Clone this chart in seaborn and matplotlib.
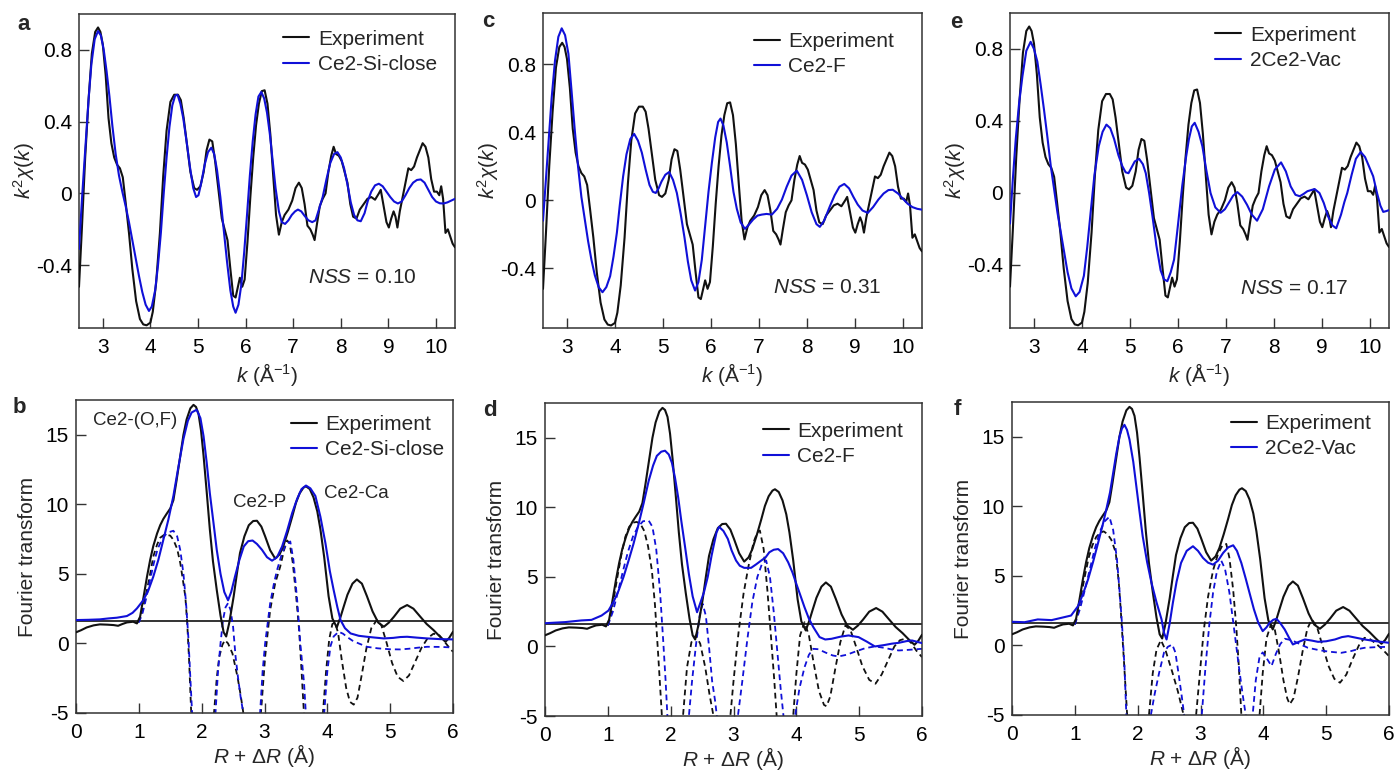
import numpy as np
import matplotlib
matplotlib.use("Agg")
import matplotlib.pyplot as plt
from matplotlib.lines import Line2D
import seaborn as sns

# ---------------- data ----------------
# k-space experiment (shared by a, c, e)
EXP_K = [(2.50,-0.52),(2.56,-0.20),(2.63,0.20),(2.70,0.52),(2.77,0.78),(2.84,0.90),(2.90,0.925),(2.95,0.90),
         (3.00,0.83),(3.06,0.66),(3.12,0.42),(3.18,0.28),(3.24,0.20),(3.30,0.16),(3.36,0.14),(3.42,0.09),
         (3.48,-0.05),(3.55,-0.22),(3.62,-0.42),(3.70,-0.60),(3.78,-0.70),(3.85,-0.73),(3.92,-0.735),(4.00,-0.72),
         (4.05,-0.66),(4.12,-0.50),(4.20,-0.22),(4.27,0.10),(4.34,0.35),(4.42,0.51),(4.50,0.55),(4.58,0.55),
         (4.64,0.52),(4.70,0.42),(4.77,0.27),(4.84,0.12),(4.92,0.03),(4.98,0.02),(5.05,0.04),(5.12,0.12),
         (5.18,0.24),(5.24,0.30),(5.30,0.29),(5.36,0.18),(5.43,0.02),(5.50,-0.14),(5.56,-0.20),(5.62,-0.26),
         (5.68,-0.42),(5.74,-0.57),(5.79,-0.58),(5.84,-0.52),(5.88,-0.47),(5.93,-0.52),(5.98,-0.48),(6.04,-0.27),
         (6.10,-0.02),(6.16,0.20),(6.22,0.38),(6.28,0.50),(6.34,0.57),(6.40,0.575),(6.46,0.50),(6.52,0.33),
         (6.58,0.10),(6.64,-0.12),(6.70,-0.23),(6.76,-0.16),(6.82,-0.12),(6.90,-0.09),(6.98,-0.04),(7.05,0.03),
         (7.12,0.06),(7.18,0.03),(7.24,-0.06),(7.30,-0.18),(7.36,-0.20),(7.41,-0.23),(7.45,-0.26),(7.50,-0.17),
         (7.56,-0.07),(7.62,-0.03),(7.68,0.00),(7.74,0.12),(7.80,0.21),(7.85,0.26),(7.90,0.22),(7.96,0.21),
         (8.02,0.18),(8.08,0.12),(8.14,0.06),(8.20,-0.06),(8.26,-0.13),(8.33,-0.14),(8.40,-0.09),(8.48,-0.06),
         (8.56,-0.03),(8.64,-0.02),(8.72,-0.035),(8.80,0.00),(8.84,0.02),(8.90,-0.07),(8.96,-0.16),(9.01,-0.19),
         (9.06,-0.14),(9.11,-0.10),(9.15,-0.13),(9.19,-0.19),(9.24,-0.10),(9.30,-0.02),(9.36,0.06),(9.42,0.14),
         (9.48,0.13),(9.54,0.15),(9.60,0.20),(9.66,0.24),(9.72,0.28),(9.78,0.26),(9.84,0.20),(9.90,0.08),
         (9.96,0.01),(10.02,0.01),(10.07,-0.01),(10.11,0.04),(10.15,-0.03),(10.20,-0.22),(10.25,-0.20),
         (10.30,-0.24),(10.35,-0.28),(10.40,-0.30)]

FIT_A_K = [(2.50,-0.31),(2.57,0.00),(2.64,0.28),(2.70,0.52),(2.76,0.72),(2.83,0.86),(2.90,0.905),(2.96,0.88),
           (3.02,0.80),(3.08,0.68),(3.14,0.54),(3.20,0.38),(3.27,0.22),(3.34,0.10),(3.41,0.01),(3.48,-0.07),
           (3.55,-0.16),(3.62,-0.26),(3.69,-0.36),(3.76,-0.46),(3.83,-0.55),(3.90,-0.62),(3.97,-0.655),(4.03,-0.63),
           (4.10,-0.54),(4.16,-0.40),(4.22,-0.22),(4.28,0.00),(4.34,0.20),(4.40,0.37),(4.46,0.49),(4.52,0.545),
           (4.57,0.55),(4.63,0.50),(4.69,0.42),(4.76,0.29),(4.83,0.15),(4.90,0.03),(4.96,-0.02),(5.01,-0.01),
           (5.07,0.06),(5.14,0.16),(5.21,0.23),(5.28,0.255),(5.34,0.22),(5.40,0.13),(5.47,-0.02),(5.54,-0.20),
           (5.61,-0.38),(5.68,-0.54),(5.74,-0.63),(5.79,-0.665),(5.85,-0.62),(5.91,-0.51),(5.97,-0.33),(6.03,-0.12),
           (6.09,0.10),(6.15,0.29),(6.21,0.44),(6.27,0.54),(6.33,0.565),(6.39,0.53),(6.45,0.45),(6.51,0.33),
           (6.57,0.18),(6.63,0.03),(6.70,-0.10),(6.76,-0.16),(6.83,-0.17),(6.90,-0.15),(6.97,-0.12),(7.04,-0.10),
           (7.10,-0.09),(7.17,-0.10),(7.24,-0.125),(7.32,-0.15),(7.40,-0.16),(7.47,-0.15),(7.54,-0.09),(7.62,-0.02),
           (7.70,0.08),(7.78,0.17),(7.86,0.22),(7.93,0.23),(8.00,0.20),(8.07,0.14),(8.14,0.05),(8.21,-0.05),
           (8.28,-0.12),(8.35,-0.15),(8.42,-0.155),(8.50,-0.11),(8.57,-0.04),(8.64,0.01),(8.72,0.045),(8.80,0.054),
           (8.88,0.04),(8.96,0.01),(9.04,-0.02),(9.12,-0.045),(9.20,-0.056),(9.28,-0.045),(9.36,-0.01),(9.44,0.03),
           (9.52,0.06),(9.60,0.075),(9.68,0.078),(9.76,0.06),(9.84,0.02),(9.92,-0.02),(10.00,-0.045),(10.08,-0.055),
           (10.16,-0.056),(10.24,-0.05),(10.32,-0.04),(10.40,-0.03)]

FIT_C_K = [(2.50,-0.12),(2.56,0.12),(2.62,0.36),(2.68,0.60),(2.75,0.82),(2.82,0.96),(2.89,1.01),(2.96,0.97),
           (3.03,0.86),(3.09,0.66),(3.16,0.42),(3.23,0.20),(3.30,0.02),(3.37,-0.11),(3.44,-0.24),(3.51,-0.35),
           (3.58,-0.44),(3.66,-0.51),(3.74,-0.54),(3.82,-0.51),(3.90,-0.445),(3.97,-0.33),(4.04,-0.19),(4.10,-0.03),
           (4.17,0.14),(4.24,0.27),(4.32,0.36),(4.40,0.39),(4.48,0.35),(4.56,0.28),(4.64,0.18),(4.72,0.09),
           (4.79,0.05),(4.85,0.043),(4.91,0.07),(4.97,0.11),(5.05,0.15),(5.13,0.166),(5.21,0.12),(5.29,0.043),
           (5.37,-0.08),(5.45,-0.22),(5.52,-0.36),(5.59,-0.47),(5.67,-0.53),(5.74,-0.48),(5.81,-0.35),(5.88,-0.15),
           (5.95,0.05),(6.02,0.22),(6.09,0.37),(6.15,0.46),(6.20,0.48),(6.26,0.44),(6.33,0.34),(6.40,0.20),
           (6.47,0.05),(6.54,-0.05),(6.62,-0.13),(6.71,-0.168),(6.80,-0.14),(6.88,-0.113),(6.97,-0.09),(7.06,-0.084),
           (7.16,-0.08),(7.27,-0.084),(7.38,-0.05),(7.48,0.004),(7.58,0.08),(7.68,0.145),(7.79,0.174),(7.90,0.12),
           (8.00,0.03),(8.10,-0.07),(8.20,-0.14),(8.27,-0.156),(8.36,-0.12),(8.48,-0.035),(8.58,0.03),(8.68,0.08),
           (8.78,0.096),(8.88,0.07),(8.97,0.02),(9.06,-0.025),(9.16,-0.06),(9.27,-0.074),(9.38,-0.04),(9.49,0.004),
           (9.60,0.04),(9.70,0.06),(9.79,0.062),(9.90,0.04),(10.00,0.01),(10.10,-0.02),(10.20,-0.04),(10.30,-0.05),
           (10.40,-0.055)]

FIT_E_K = [(2.50,-0.17),(2.56,0.08),(2.62,0.30),(2.69,0.50),(2.76,0.65),(2.84,0.79),(2.93,0.84),(3.00,0.80),
           (3.07,0.73),(3.14,0.60),(3.21,0.46),(3.28,0.31),(3.35,0.15),(3.42,0.02),(3.49,-0.11),(3.56,-0.22),
           (3.63,-0.33),(3.70,-0.44),(3.78,-0.53),(3.87,-0.574),(3.95,-0.55),(4.04,-0.46),(4.11,-0.30),(4.18,-0.11),
           (4.26,0.10),(4.35,0.26),(4.43,0.34),(4.51,0.38),(4.59,0.36),(4.67,0.30),(4.76,0.21),(4.84,0.15),
           (4.91,0.115),(4.97,0.11),(5.03,0.14),(5.10,0.175),(5.19,0.19),(5.27,0.16),(5.33,0.11),(5.40,0.00),
           (5.47,-0.13),(5.55,-0.29),(5.64,-0.43),(5.71,-0.48),(5.78,-0.49),(5.85,-0.44),(5.92,-0.37),(6.00,-0.18),
           (6.09,0.04),(6.17,0.20),(6.23,0.30),(6.29,0.37),(6.35,0.39),(6.43,0.34),(6.51,0.26),(6.59,0.13),
           (6.68,0.00),(6.78,-0.08),(6.89,-0.11),(6.98,-0.09),(7.06,-0.055),(7.15,-0.015),(7.24,0.005),(7.34,-0.02),
           (7.44,-0.065),(7.54,-0.12),(7.65,-0.154),(7.77,-0.09),(7.90,0.037),(8.02,0.13),(8.15,0.17),(8.25,0.12),
           (8.35,0.037),(8.45,-0.01),(8.54,-0.018),(8.62,-0.005),(8.70,0.01),(8.85,0.022),(8.95,0.00),(9.04,-0.055),
           (9.13,-0.13),(9.22,-0.18),(9.30,-0.196),(9.40,-0.12),(9.47,-0.05),(9.53,0.00),(9.62,0.10),(9.71,0.19),
           (9.81,0.228),(9.90,0.20),(9.98,0.15),(10.07,0.093),(10.15,0.00),(10.22,-0.07),(10.28,-0.105),
           (10.35,-0.10),(10.40,-0.095)]

# R-space experiment magnitude (shared by b, d, f)
EXP_R = [(0.00,0.80),(0.08,0.95),(0.17,1.15),(0.28,1.30),(0.38,1.37),(0.50,1.35),(0.60,1.32),(0.67,1.27),
         (0.74,1.40),(0.81,1.51),(0.91,1.56),(0.97,1.44),(1.02,1.92),(1.07,3.2),(1.13,4.8),(1.18,6.0),
         (1.23,7.0),(1.29,7.9),(1.34,8.5),(1.39,8.95),(1.44,9.3),(1.50,9.7),(1.55,10.3),(1.60,11.7),
         (1.66,13.5),(1.71,15.0),(1.76,16.1),(1.82,16.9),(1.87,17.15),(1.91,17.0),(1.95,16.5),(1.99,15.3),
         (2.03,13.5),(2.08,10.9),(2.13,8.2),(2.18,5.9),(2.24,3.85),(2.30,2.0),(2.35,0.8),(2.39,0.5),
         (2.44,1.5),(2.51,3.4),(2.56,5.0),(2.61,6.5),(2.68,7.7),(2.75,8.5),(2.82,8.8),(2.88,8.82),
         (2.95,8.4),(3.01,7.7),(3.09,6.7),(3.17,6.1),(3.24,6.4),(3.30,7.0),(3.37,8.0),(3.44,9.1),
         (3.50,10.1),(3.56,10.8),(3.62,11.2),(3.66,11.3),(3.72,11.1),(3.78,10.5),(3.84,9.5),(3.89,8.2),
         (3.95,6.2),(4.02,3.4),(4.08,1.8),(4.15,1.15),(4.21,1.9),(4.26,2.64),(4.32,3.5),(4.40,4.3),
         (4.47,4.6),(4.55,4.3),(4.63,3.4),(4.72,2.3),(4.81,1.5),(4.90,1.2),(4.98,1.5),(5.06,1.92),
         (5.16,2.5),(5.27,2.76),(5.37,2.5),(5.48,1.92),(5.58,1.4),(5.69,0.96),(5.79,0.5),(5.88,0.12),
         (5.94,0.4),(6.00,0.84)]

FIT_B_R = [(0.00,1.68),(0.20,1.70),(0.38,1.73),(0.52,1.80),(0.65,1.85),(0.81,1.97),(0.90,2.20),(0.97,2.52),
           (1.07,3.1),(1.15,3.8),(1.23,4.8),(1.31,6.0),(1.39,7.45),(1.47,8.9),(1.55,10.6),(1.63,12.7),
           (1.71,14.7),(1.78,16.0),(1.84,16.6),(1.92,16.8),(1.98,16.2),(2.03,14.9),(2.08,13.0),(2.13,10.8),
           (2.19,8.6),(2.24,6.73),(2.30,5.0),(2.36,3.7),(2.42,3.1),(2.47,3.7),(2.53,4.8),(2.60,6.0),
           (2.67,6.97),(2.74,7.35),(2.81,7.4),(2.88,7.15),(2.96,6.73),(3.04,6.2),(3.12,5.95),(3.20,6.2),
           (3.28,6.97),(3.36,8.1),(3.44,9.37),(3.52,10.4),(3.59,11.1),(3.66,11.35),(3.73,11.15),(3.81,10.6),
           (3.89,9.1),(3.97,7.2),(4.04,5.2),(4.10,3.85),(4.16,2.6),(4.21,1.68),(4.28,1.1),(4.37,0.72),
           (4.50,0.55),(4.63,0.48),(4.76,0.42),(4.90,0.36),(5.05,0.40),(5.16,0.46),(5.27,0.48),(5.42,0.42),
           (5.59,0.36),(5.80,0.31),(6.00,0.29)]

IM_EXP_B = [(0.98,1.5),(1.03,1.9),(1.08,2.8),(1.13,3.85),(1.18,5.0),(1.23,6.25),(1.29,7.1),(1.34,7.6),
            (1.40,7.8),(1.45,7.8),(1.50,7.75),(1.55,7.45),(1.61,6.8),(1.66,5.77),(1.70,4.6),(1.74,3.36),
            (1.77,1.46),(1.80,-1.2),(1.83,-4.6),(1.85,-6.5),(2.02,-12),(2.17,-6.5),(2.20,-4.8),(2.24,-2.5),
            (2.28,-0.96),(2.33,-0.1),(2.37,0.24),(2.42,0.0),(2.49,-0.72),(2.57,-2.4),(2.62,-3.7),(2.67,-5.2),
            (2.70,-6.5),(2.80,-10),(2.91,-6.5),(2.95,-4.6),(3.01,-0.96),(3.09,2.4),(3.17,4.33),(3.25,5.52),
            (3.31,6.7),(3.36,7.4),(3.40,7.2),(3.45,5.8),(3.50,3.6),(3.55,1.0),(3.59,-2.0),(3.63,-5.2),
            (3.66,-6.5),(3.78,-12),(3.90,-6.5),(3.93,-5.0),(3.98,-2.0),(4.03,0.3),(4.08,1.4),(4.12,1.5),
            (4.17,0.8),(4.23,-1.2),(4.30,-3.2),(4.36,-4.2),(4.42,-4.4),(4.48,-3.9),(4.55,-2.2),(4.62,-0.4),
            (4.70,1.1),(4.79,1.7),(4.86,1.3),(4.94,0.1),(5.03,-1.4),(5.12,-2.4),(5.21,-2.7),(5.30,-2.3),
            (5.40,-1.3),(5.50,-0.3),(5.60,0.4),(5.69,0.7),(5.78,0.6),(5.87,0.1),(5.94,-0.3),(6.00,-0.6)]

IM_FIT_B = [(1.00,1.5),(1.06,2.2),(1.12,3.3),(1.18,4.6),(1.24,5.8),(1.30,6.8),(1.36,7.4),(1.42,7.8),
            (1.48,8.0),(1.55,8.1),(1.61,7.7),(1.66,6.7),(1.71,5.0),(1.75,3.0),(1.79,0.3),(1.82,-2.5),
            (1.85,-5.2),(1.87,-6.5),(2.03,-12),(2.19,-6.5),(2.22,-5.0),(2.26,-2.0),(2.30,0.0),(2.34,1.7),
            (2.38,2.6),(2.42,2.9),(2.46,2.4),(2.50,1.2),(2.54,-0.96),(2.58,-2.5),(2.62,-3.85),(2.67,-5.2),
            (2.70,-6.5),(2.81,-10),(2.90,-6.5),(2.93,-5.0),(2.97,-2.0),(3.01,0.0),(3.09,2.88),(3.15,4.3),
            (3.20,5.28),(3.28,6.5),(3.34,7.1),(3.41,7.33),(3.46,6.0),(3.52,3.12),(3.57,0.0),(3.63,-2.88),
            (3.66,-5.2),(3.68,-6.5),(3.82,-12),(3.92,-6.5),(3.95,-5.0),(4.00,-2.0),(4.05,-0.2),(4.10,0.5),
            (4.18,0.84),(4.25,0.7),(4.31,0.48),(4.40,0.2),(4.50,0.0),(4.63,-0.24),(4.80,-0.35),(5.00,-0.42),
            (5.16,-0.43),(5.30,-0.38),(5.45,-0.3),(5.59,-0.24),(5.80,-0.25),(6.00,-0.29)]

FIT_D_R = [(0.00,1.67),(0.32,1.75),(0.58,1.87),(0.74,1.91),(0.90,2.22),(1.01,2.58),(1.09,3.2),(1.17,4.0),
           (1.25,5.0),(1.33,6.17),(1.41,7.4),(1.49,8.8),(1.57,10.3),(1.65,11.9),(1.72,13.0),(1.78,13.7),
           (1.85,14.0),(1.91,14.07),(1.97,13.8),(2.02,13.2),(2.07,12.1),(2.12,10.7),(2.17,9.0),(2.23,7.13),
           (2.29,5.2),(2.35,3.6),(2.42,2.46),(2.47,3.1),(2.53,3.9),(2.59,5.0),(2.65,6.5),(2.69,7.37),
           (2.73,8.2),(2.77,8.6),(2.84,8.3),(2.91,7.73),(2.97,6.9),(3.04,6.18),(3.10,5.8),(3.17,5.65),
           (3.28,5.65),(3.36,5.9),(3.44,6.17),(3.51,6.4),(3.57,6.77),(3.64,6.95),(3.71,7.0),(3.79,6.7),
           (3.87,6.05),(3.94,5.3),(4.00,4.5),(4.07,3.6),(4.13,2.82),(4.20,2.0),(4.27,1.39),(4.37,0.67),
           (4.46,0.5),(4.56,0.55),(4.70,0.7),(4.83,0.79),(4.99,0.67),(5.12,0.35),(5.25,0.0),(5.40,0.1),
           (5.52,0.2),(5.63,0.26),(5.75,0.38),(5.84,0.43),(6.00,0.24)]

IM_EXP_D = [(1.00,1.5),(1.05,2.3),(1.10,3.6),(1.16,5.2),(1.22,6.7),(1.28,7.9),(1.34,8.6),(1.40,8.9),
            (1.46,8.95),(1.52,8.8),(1.58,8.3),(1.64,7.2),(1.70,5.5),(1.75,3.0),(1.80,-0.5),(1.85,-4.2),
            (1.88,-6.5),(2.04,-12),(2.17,-6.5),(2.20,-4.8),(2.26,-1.5),(2.33,0.3),(2.40,0.79),(2.47,0.2),
            (2.55,-1.5),(2.62,-3.5),(2.69,-5.2),(2.72,-6.5),(2.83,-10),(2.92,-6.5),(2.95,-5.0),(3.00,-2.5),
            (3.08,1.0),(3.16,3.8),(3.24,5.8),(3.32,7.5),(3.38,8.2),(3.42,8.33),(3.48,7.0),(3.54,4.0),
            (3.60,0.5),(3.65,-2.5),(3.69,-5.2),(3.72,-6.5),(3.84,-12),(3.92,-6.5),(3.95,-5.0),(4.00,-2.0),
            (4.06,0.8),(4.13,1.74),(4.20,0.8),(4.28,-1.3),(4.36,-3.2),(4.44,-4.2),(4.48,-4.3),(4.54,-3.6),
            (4.62,-1.6),(4.70,0.3),(4.78,1.5),(4.86,1.2),(4.95,0.0),(5.05,-1.4),(5.16,-2.4),(5.26,-2.68),
            (5.36,-2.0),(5.46,-1.0),(5.56,0.0),(5.65,0.45),(5.73,0.55),(5.82,0.3),(5.91,-0.3),(6.00,-0.77)]

IM_FIT_D = [(1.00,1.5),(1.08,2.5),(1.16,3.9),(1.24,5.4),(1.32,6.8),(1.40,7.9),(1.48,8.6),(1.56,9.0),
            (1.65,9.05),(1.71,8.6),(1.77,7.0),(1.83,4.0),(1.88,0.5),(1.92,-2.5),(1.95,-5.2),(1.98,-6.5),
            (2.12,-12),(2.26,-6.5),(2.29,-5.0),(2.34,-2.5),(2.40,0.0),(2.46,2.2),(2.51,3.06),(2.56,2.2),
            (2.61,0.0),(2.66,-2.5),(2.71,-4.0),(2.74,-5.2),(2.77,-6.5),(2.92,-12),(3.04,-6.5),(3.07,-5.0),
            (3.14,-2.5),(3.22,0.5),(3.30,3.2),(3.38,5.0),(3.45,5.9),(3.52,6.17),(3.58,5.0),(3.64,2.5),
            (3.70,-0.5),(3.75,-3.0),(3.80,-5.2),(3.83,-6.5),(3.90,-10),(3.95,-6.5),(3.98,-5.0),(4.05,-3.0),
            (4.13,-1.5),(4.20,-0.6),(4.27,-0.17),(4.35,-0.2),(4.47,-0.45),(4.58,-0.65),(4.67,-0.72),(4.80,-0.6),
            (4.95,-0.35),(5.10,-0.12),(5.25,0.0),(5.40,-0.1),(5.52,-0.22),(5.63,-0.29),(5.80,-0.24),(6.00,-0.17)]

FIT_F_R = [(0.00,1.70),(0.20,1.67),(0.41,1.87),(0.63,1.82),(0.79,1.99),(0.94,2.15),(1.05,2.82),(1.13,3.7),
           (1.21,4.74),(1.29,6.0),(1.37,7.37),(1.44,8.6),(1.50,9.76),(1.56,11.0),(1.61,12.4),(1.66,13.8),
           (1.71,15.0),(1.75,15.6),(1.79,15.86),(1.83,15.5),(1.87,14.8),(1.93,13.2),(1.98,11.4),(2.03,9.6),
           (2.08,7.85),(2.15,6.0),(2.22,4.5),(2.30,3.1),(2.38,1.87),(2.42,0.9),(2.46,0.43),(2.51,1.6),
           (2.56,3.06),(2.62,4.6),(2.69,5.93),(2.78,6.8),(2.88,7.13),(2.96,6.8),(3.04,6.29),(3.12,5.95),
           (3.20,5.81),(3.28,6.1),(3.36,6.65),(3.44,7.05),(3.52,7.2),(3.58,6.8),(3.65,5.93),(3.72,4.8),
           (3.78,3.78),(3.85,2.6),(3.92,1.63),(3.99,1.03),(4.05,1.3),(4.10,1.63),(4.16,1.85),(4.21,1.91),
           (4.27,1.6),(4.34,1.15),(4.41,0.55),(4.47,0.07),(4.56,0.25),(4.66,0.43),(4.77,0.35),(4.87,0.26),
           (5.00,0.3),(5.14,0.43),(5.25,0.6),(5.35,0.67),(5.48,0.55),(5.61,0.43),(5.80,0.3),(6.00,0.19)]

IM_EXP_F = [(1.00,1.5),(1.05,2.3),(1.10,3.6),(1.16,5.0),(1.22,6.3),(1.28,7.2),(1.34,7.8),(1.40,8.1),
            (1.46,8.2),(1.52,8.0),(1.58,7.6),(1.65,6.7),(1.70,4.5),(1.73,2.6),(1.78,-1.0),(1.83,-4.8),
            (1.86,-6.5),(2.02,-12),(2.15,-6.5),(2.18,-5.0),(2.24,-2.0),(2.30,-0.3),(2.37,0.38),(2.44,-0.3),
            (2.55,-1.9),(2.64,-3.3),(2.72,-4.8),(2.75,-6.5),(2.85,-10),(2.90,-6.5),(2.93,-5.0),(2.98,-2.5),
            (3.05,1.0),(3.12,3.5),(3.20,5.4),(3.28,6.6),(3.35,7.2),(3.41,7.3),(3.46,6.3),(3.52,4.0),
            (3.57,1.3),(3.61,-1.5),(3.65,-5.0),(3.68,-6.5),(3.80,-12),(3.91,-6.5),(3.94,-5.0),(3.99,-2.0),
            (4.05,0.5),(4.12,1.5),(4.18,1.2),(4.25,-0.5),(4.32,-2.5),(4.38,-3.8),(4.42,-4.23),(4.48,-3.8),
            (4.55,-2.3),(4.63,-0.3),(4.70,1.2),(4.77,1.87),(4.85,1.4),(4.94,0.0),(5.04,-1.5),(5.13,-2.4),
            (5.22,-2.68),(5.32,-2.1),(5.42,-1.0),(5.52,0.0),(5.61,0.55),(5.70,0.45),(5.80,0.1),(5.90,-0.3),
            (6.00,-0.77)]

IM_FIT_F = [(1.00,1.5),(1.08,2.6),(1.16,4.0),(1.24,5.5),(1.32,7.0),(1.40,8.2),(1.47,8.9),(1.55,9.25),
            (1.61,8.3),(1.67,6.2),(1.71,4.0),(1.75,1.6),(1.79,-1.5),(1.82,-5.0),(1.85,-6.5),(2.03,-12),
            (2.18,-6.5),(2.21,-5.0),(2.27,-3.5),(2.34,-2.0),(2.42,-0.5),(2.48,-0.1),(2.55,0.07),(2.60,-0.5),
            (2.65,-2.0),(2.70,-3.6),(2.74,-5.0),(2.77,-6.5),(2.91,-12),(3.00,-6.5),(3.02,-5.0),(3.08,-1.5),
            (3.14,1.5),(3.20,3.8),(3.26,5.3),(3.33,6.1),(3.39,5.5),(3.46,3.8),(3.54,1.0),(3.61,-1.5),
            (3.67,-3.5),(3.72,-5.0),(3.75,-6.5),(3.79,-8),(3.83,-5.0),(3.88,-2.5),(3.94,-0.8),(3.99,-0.5),
            (4.05,-0.9),(4.13,-1.48),(4.20,-0.6),(4.27,0.1),(4.34,0.48),(4.45,0.38),(4.58,0.1),(4.71,-0.17),
            (4.90,-0.35),(5.05,-0.45),(5.24,-0.53),(5.40,-0.4),(5.52,-0.25),(5.61,-0.17),(5.80,-0.12),
            (6.00,-0.1)]

MODEL_NAMES = ["Ce2-Si-close", "Ce2-F", "2Ce2-Vac"]
NSS_VALUES = ["0.10", "0.31", "0.17"]
PANEL_LETTERS = ["a", "b", "c", "d", "e", "f"]
K_TICKS = [3, 4, 5, 6, 7, 8, 9, 10]
K_YTICKS = [-0.4, 0, 0.4, 0.8]
K_YTICKLABELS = ["-0.4", "0", "0.4", "0.8"]
R_TICKS = [0, 1, 2, 3, 4, 5, 6]
R_YTICKS = [-5, 0, 5, 10, 15]
BASELINE = 1.6
PEAK_LABELS = ["Ce2-(O,F)", "Ce2-P", "Ce2-Ca"]
PEAK_LABEL_X = [0.94, 2.93, 4.47]
PEAK_LABEL_Y = [16.0, 10.1, 10.8]

# ---------------- style ----------------
sns.set_style("ticks")
plt.rcParams["font.family"] = ["Liberation Sans", "DejaVu Sans"]
plt.rcParams["mathtext.fontset"] = "custom"
plt.rcParams["mathtext.rm"] = "Liberation Sans"
plt.rcParams["mathtext.it"] = "Liberation Sans:italic"
plt.rcParams["mathtext.bf"] = "Liberation Sans:bold"
plt.rcParams["axes.unicode_minus"] = False

BLACK = "#111111"
BLUE = "#1010d8"
SPINE = "#333333"
FS = 15

W, H = 1395, 772
fig = plt.figure(figsize=(W / 100, H / 100), dpi=100)


def add_ax(l, t, r, b):
    return fig.add_axes([l / W, (H - b) / H, (r - l) / W, (b - t) / H])


def arr(pairs):
    a = np.array(pairs, dtype=float)
    return a[:, 0], a[:, 1]


def style_ax(ax):
    for s in ax.spines.values():
        s.set_visible(True)
        s.set_color(SPINE)
        s.set_linewidth(1.1)
    ax.tick_params(direction="in", length=7, width=1.0, colors=SPINE, labelcolor="black",
                   labelsize=FS, top=False, right=False)
    ax.tick_params(axis="x", pad=7)
    ax.tick_params(axis="y", pad=5)


def line(ax, pairs, color, ls="-", lw=1.5, z=3):
    x, y = arr(pairs)
    sns.lineplot(x=x, y=y, ax=ax, color=color, linewidth=lw, linestyle=ls,
                 sort=False, estimator=None, zorder=z)


top_rects = [(79, 14, 455, 328), (543, 13, 922, 328), (1010, 13, 1389, 328)]
bot_rects = [(76, 400, 453, 713), (545, 403, 922, 716), (1012, 402, 1389, 715)]
top_ylims = [(-0.75, 1.0), (-0.75, 1.1), (-0.75, 1.0)]
top_fits = [FIT_A_K, FIT_C_K, FIT_E_K]
bot_fits = [FIT_B_R, FIT_D_R, FIT_F_R]
bot_im_exp = [IM_EXP_B, IM_EXP_D, IM_EXP_F]
bot_im_fit = [IM_FIT_B, IM_FIT_D, IM_FIT_F]
top_leg = [(0.952, 0.950), (0.927, 0.940), (0.912, 0.960)]
bot_leg = [(0.977, 0.952), (0.950, 0.940), (0.953, 0.962)]
nss_pos = [(0.753, 0.162), (0.749, 0.130), (0.749, 0.124)]
letter_pos = [(17, 30), (13, 413), (482, 27), (483, 416), (950, 28), (954, 415)]

leg_kw = dict(loc="upper right", frameon=False, fontsize=FS, handlelength=1.25,
              handletextpad=0.4, labelspacing=0.30, borderpad=0, borderaxespad=0)

for i in range(3):
    # ---- k-space ----
    ax = add_ax(*top_rects[i])
    line(ax, EXP_K, BLACK, z=3)
    line(ax, top_fits[i], BLUE, z=4)
    ax.set_xlim(2.5, 10.4)
    ax.set_ylim(*top_ylims[i])
    ax.set_xticks(K_TICKS)
    ax.set_yticks(K_YTICKS)
    ax.set_yticklabels(K_YTICKLABELS)
    style_ax(ax)
    ax.set_xlabel(r"$k$ (Å$^{-1}$)", fontsize=FS, labelpad=3)
    ax.set_ylabel(r"$k^{2}\chi(k)$", fontsize=FS, labelpad=-1)
    handles = [Line2D([], [], color=BLACK, lw=1.5), Line2D([], [], color=BLUE, lw=1.5)]
    ax.legend(handles, ["Experiment", MODEL_NAMES[i]], bbox_to_anchor=top_leg[i], **leg_kw)
    ax.text(nss_pos[i][0], nss_pos[i][1], r"$NSS$ = " + NSS_VALUES[i], transform=ax.transAxes,
            ha="center", va="center", fontsize=FS)

    # ---- R-space ----
    bx = add_ax(*bot_rects[i])
    bx.axhline(BASELINE, color=BLACK, lw=1.2, zorder=1)
    line(bx, bot_im_exp[i], BLACK, ls=(0, (3.2, 2.2)), lw=1.3, z=2)
    line(bx, bot_im_fit[i], BLUE, ls=(0, (3.2, 2.2)), lw=1.3, z=2)
    line(bx, EXP_R, BLACK, z=3)
    line(bx, bot_fits[i], BLUE, z=4)
    bx.set_xlim(0, 6)
    bx.set_ylim(-5, 17.5)
    bx.set_xticks(R_TICKS)
    bx.set_yticks(R_YTICKS)
    style_ax(bx)
    bx.set_xlabel(r"$R$ + Δ$R$ (Å)", fontsize=FS, labelpad=0.5)
    bx.set_ylabel("Fourier transform", fontsize=FS, labelpad=6)
    handles = [Line2D([], [], color=BLACK, lw=1.5), Line2D([], [], color=BLUE, lw=1.5)]
    bx.legend(handles, ["Experiment", MODEL_NAMES[i]], bbox_to_anchor=bot_leg[i], **leg_kw)
    if i == 0:
        for t, x, y in zip(PEAK_LABELS, PEAK_LABEL_X, PEAK_LABEL_Y):
            bx.text(x, y, t, ha="center", va="center", fontsize=13.5)

for letter, (px, py) in zip(PANEL_LETTERS, letter_pos):
    fig.text(px / W, (H - py) / H, letter, ha="left", va="baseline", fontsize=16, fontweight="bold")

fig.savefig("out.png", dpi=100)
